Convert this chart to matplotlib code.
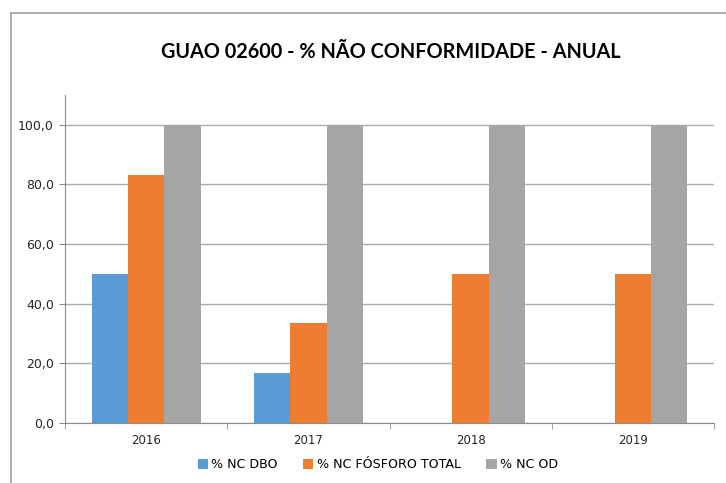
import matplotlib
matplotlib.use('Agg')
import matplotlib.pyplot as plt
import numpy as np
from matplotlib.lines import Line2D

anos = ['2016', '2017', '2018', '2019']
nc_dbo = [50.0, 16.7, 0.0, 0.0]
nc_fosforo = [83.3, 33.3, 50.0, 50.0]
nc_od = [100.0, 100.0, 100.0, 100.0]
series = ['% NC DBO', '% NC FÓSFORO TOTAL', '% NC OD']
cores = ['#5B9BD5', '#ED7D31', '#A5A5A5']

fig = plt.figure(figsize=(7.26, 4.83), dpi=100)
ax = fig.add_axes([65 / 726, 1 - 422.7 / 483, (714 - 65) / 726, (422.7 - 95) / 483])

x = np.arange(len(anos))
w = 0.224
for i, (vals, nome) in enumerate(zip([nc_dbo, nc_fosforo, nc_od], series)):
    ax.bar(x + (i - 1) * w, vals, width=w, color=cores[i], label=nome, zorder=3)

ax.set_xlim(-0.5, len(anos) - 0.5)
ax.set_ylim(0, 110)
ax.set_yticks(np.arange(0, 101, 20))
ax.set_yticklabels([('%.1f' % v).replace('.', ',') for v in np.arange(0, 101, 20)],
                   fontsize=9, color='#262626')
ax.set_xticks(x)
ax.set_xticklabels(anos, fontsize=8.5, color='#262626')
ax.set_xticks(np.arange(-0.5, len(anos)), minor=True)
ax.tick_params(axis='x', which='major', length=0, pad=8)
ax.tick_params(axis='x', which='minor', length=4, color='#8c8c8c', direction='out')
ax.tick_params(axis='y', length=4, color='#8c8c8c', direction='out', pad=4)

ax.grid(axis='y', color='#ababab', linewidth=1, zorder=0)
for s in ['top', 'right']:
    ax.spines[s].set_visible(False)
ax.spines['left'].set_color('#8c8c8c')
ax.spines['bottom'].set_color('#8c8c8c')

fig.text(391 / 726, 1 - 52 / 483, 'GUAO 02600 - % NÃO CONFORMIDADE - ANUAL',
         ha='center', va='center', fontsize=14.3, fontweight='bold',
         family=['Lato', 'DejaVu Sans'])

fig.legend(loc='center', bbox_to_anchor=(378 / 726, 1 - 465 / 483), ncol=3,
           frameon=False, fontsize=9.1, handlelength=0.8, handleheight=0.8,
           handletextpad=0.3, columnspacing=2.0)

# chart area border
fig.add_artist(Line2D([11 / 726, 11 / 726], [0, 1 - 13 / 483], color='#a0a0a0', lw=1.2,
                      transform=fig.transFigure))
fig.add_artist(Line2D([11 / 726, 1], [1 - 13 / 483, 1 - 13 / 483], color='#a0a0a0', lw=1.2,
                      transform=fig.transFigure))

fig.savefig('out.png', dpi=100)
